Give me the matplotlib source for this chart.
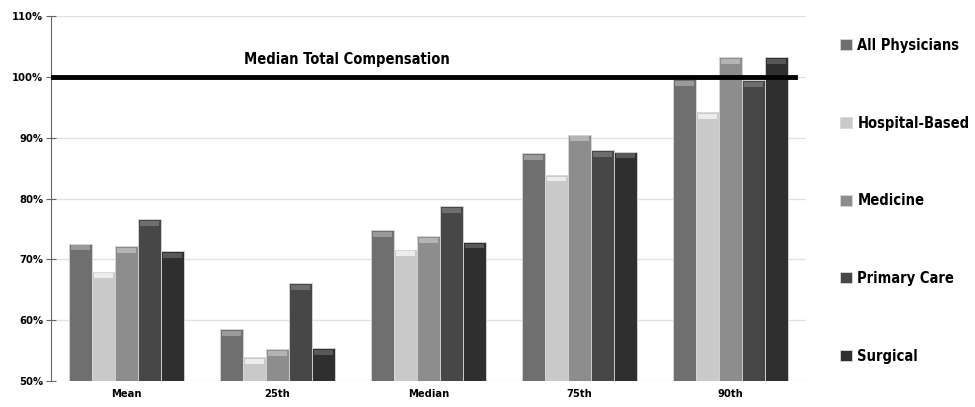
import matplotlib.pyplot as plt
import numpy as np

plt.rcParams['font.family'] = ['DejaVu Sans']
plt.rcParams['font.stretch'] = 'condensed'
plt.rcParams['font.weight'] = 'bold'

categories = ['Mean', '25th', 'Median', '75th', '90th']
series = ['All Physicians', 'Hospital-Based', 'Medicine', 'Primary Care', 'Surgical']
all_physicians = [72.6, 58.5, 74.8, 87.5, 99.6]
hospital_based = [68.0, 53.9, 71.6, 83.9, 94.2]
medicine = [72.2, 55.2, 73.8, 90.5, 103.2]
primary_care = [76.6, 66.1, 78.7, 87.9, 99.5]
surgical = [71.3, 55.4, 72.9, 87.7, 103.2]
median_total = 100

values = [all_physicians, hospital_based, medicine, primary_care, surgical]
colors = ['#6f6f6f', '#c9c9c9', '#8d8d8d', '#474747', '#2f2f2f']
caps = ['#9a9a9a', '#ececec', '#b4b4b4', '#6e6e6e', '#585858']

fig = plt.figure(figsize=(9.75, 4.07), dpi=100)
ax = fig.add_axes([51 / 975, 1 - 381 / 407, 755 / 975, 365 / 407])

x = np.arange(len(categories))
width = 0.153
base = 50
cap_h = 0.8
handles = []
for i, (vals, c, cc) in enumerate(zip(values, colors, caps)):
    pos = x + (i - 2) * width
    vals = np.array(vals)
    h = ax.bar(pos, vals - base, width, bottom=base, color=c,
               edgecolor='#d8d8d8', linewidth=0.6, zorder=3, label=series[i])
    # bevelled top of each bar
    ax.bar(pos, np.full(len(vals), cap_h), width * 0.8, bottom=vals - cap_h - 0.3,
           color=cc, linewidth=0, zorder=4)
    handles.append(h)

ax.axhline(median_total, xmin=0, xmax=744 / 755, color='black', lw=3.5, zorder=5)
ax.text(1.46, median_total + 2.8, 'Median Total Compensation', ha='center',
        va='center', fontsize=10.5, fontweight='bold', zorder=6)

ax.set_xlim(-0.5, 4.5)
ax.set_ylim(50, 110)
ax.set_yticks(np.arange(50, 111, 10))
ax.set_yticklabels([f'{v}%' for v in range(50, 111, 10)], fontsize=8, fontweight='bold')
ax.set_xticks(x)
ax.set_xticklabels(categories, fontsize=8, fontweight='bold')
ax.tick_params(axis='x', length=0, pad=6)
ax.tick_params(axis='y', direction='inout', length=7, color='#666666', pad=2)
ax.grid(axis='y', color='#e2e2e2', lw=1, zorder=0)
for s in ['top', 'right', 'bottom']:
    ax.spines[s].set_visible(False)
ax.spines['left'].set_color('#666666')

fig.legend(handles=handles, labels=series, loc='upper left',
           bbox_to_anchor=(834 / 975, 1 - 32 / 407), frameon=False,
           prop={'size': 10.5, 'weight': 'bold', 'stretch': 'condensed'},
           handlelength=0.8, handleheight=0.8, handletextpad=0.4,
           labelspacing=4.3, borderaxespad=0)

plt.savefig('out.png')
